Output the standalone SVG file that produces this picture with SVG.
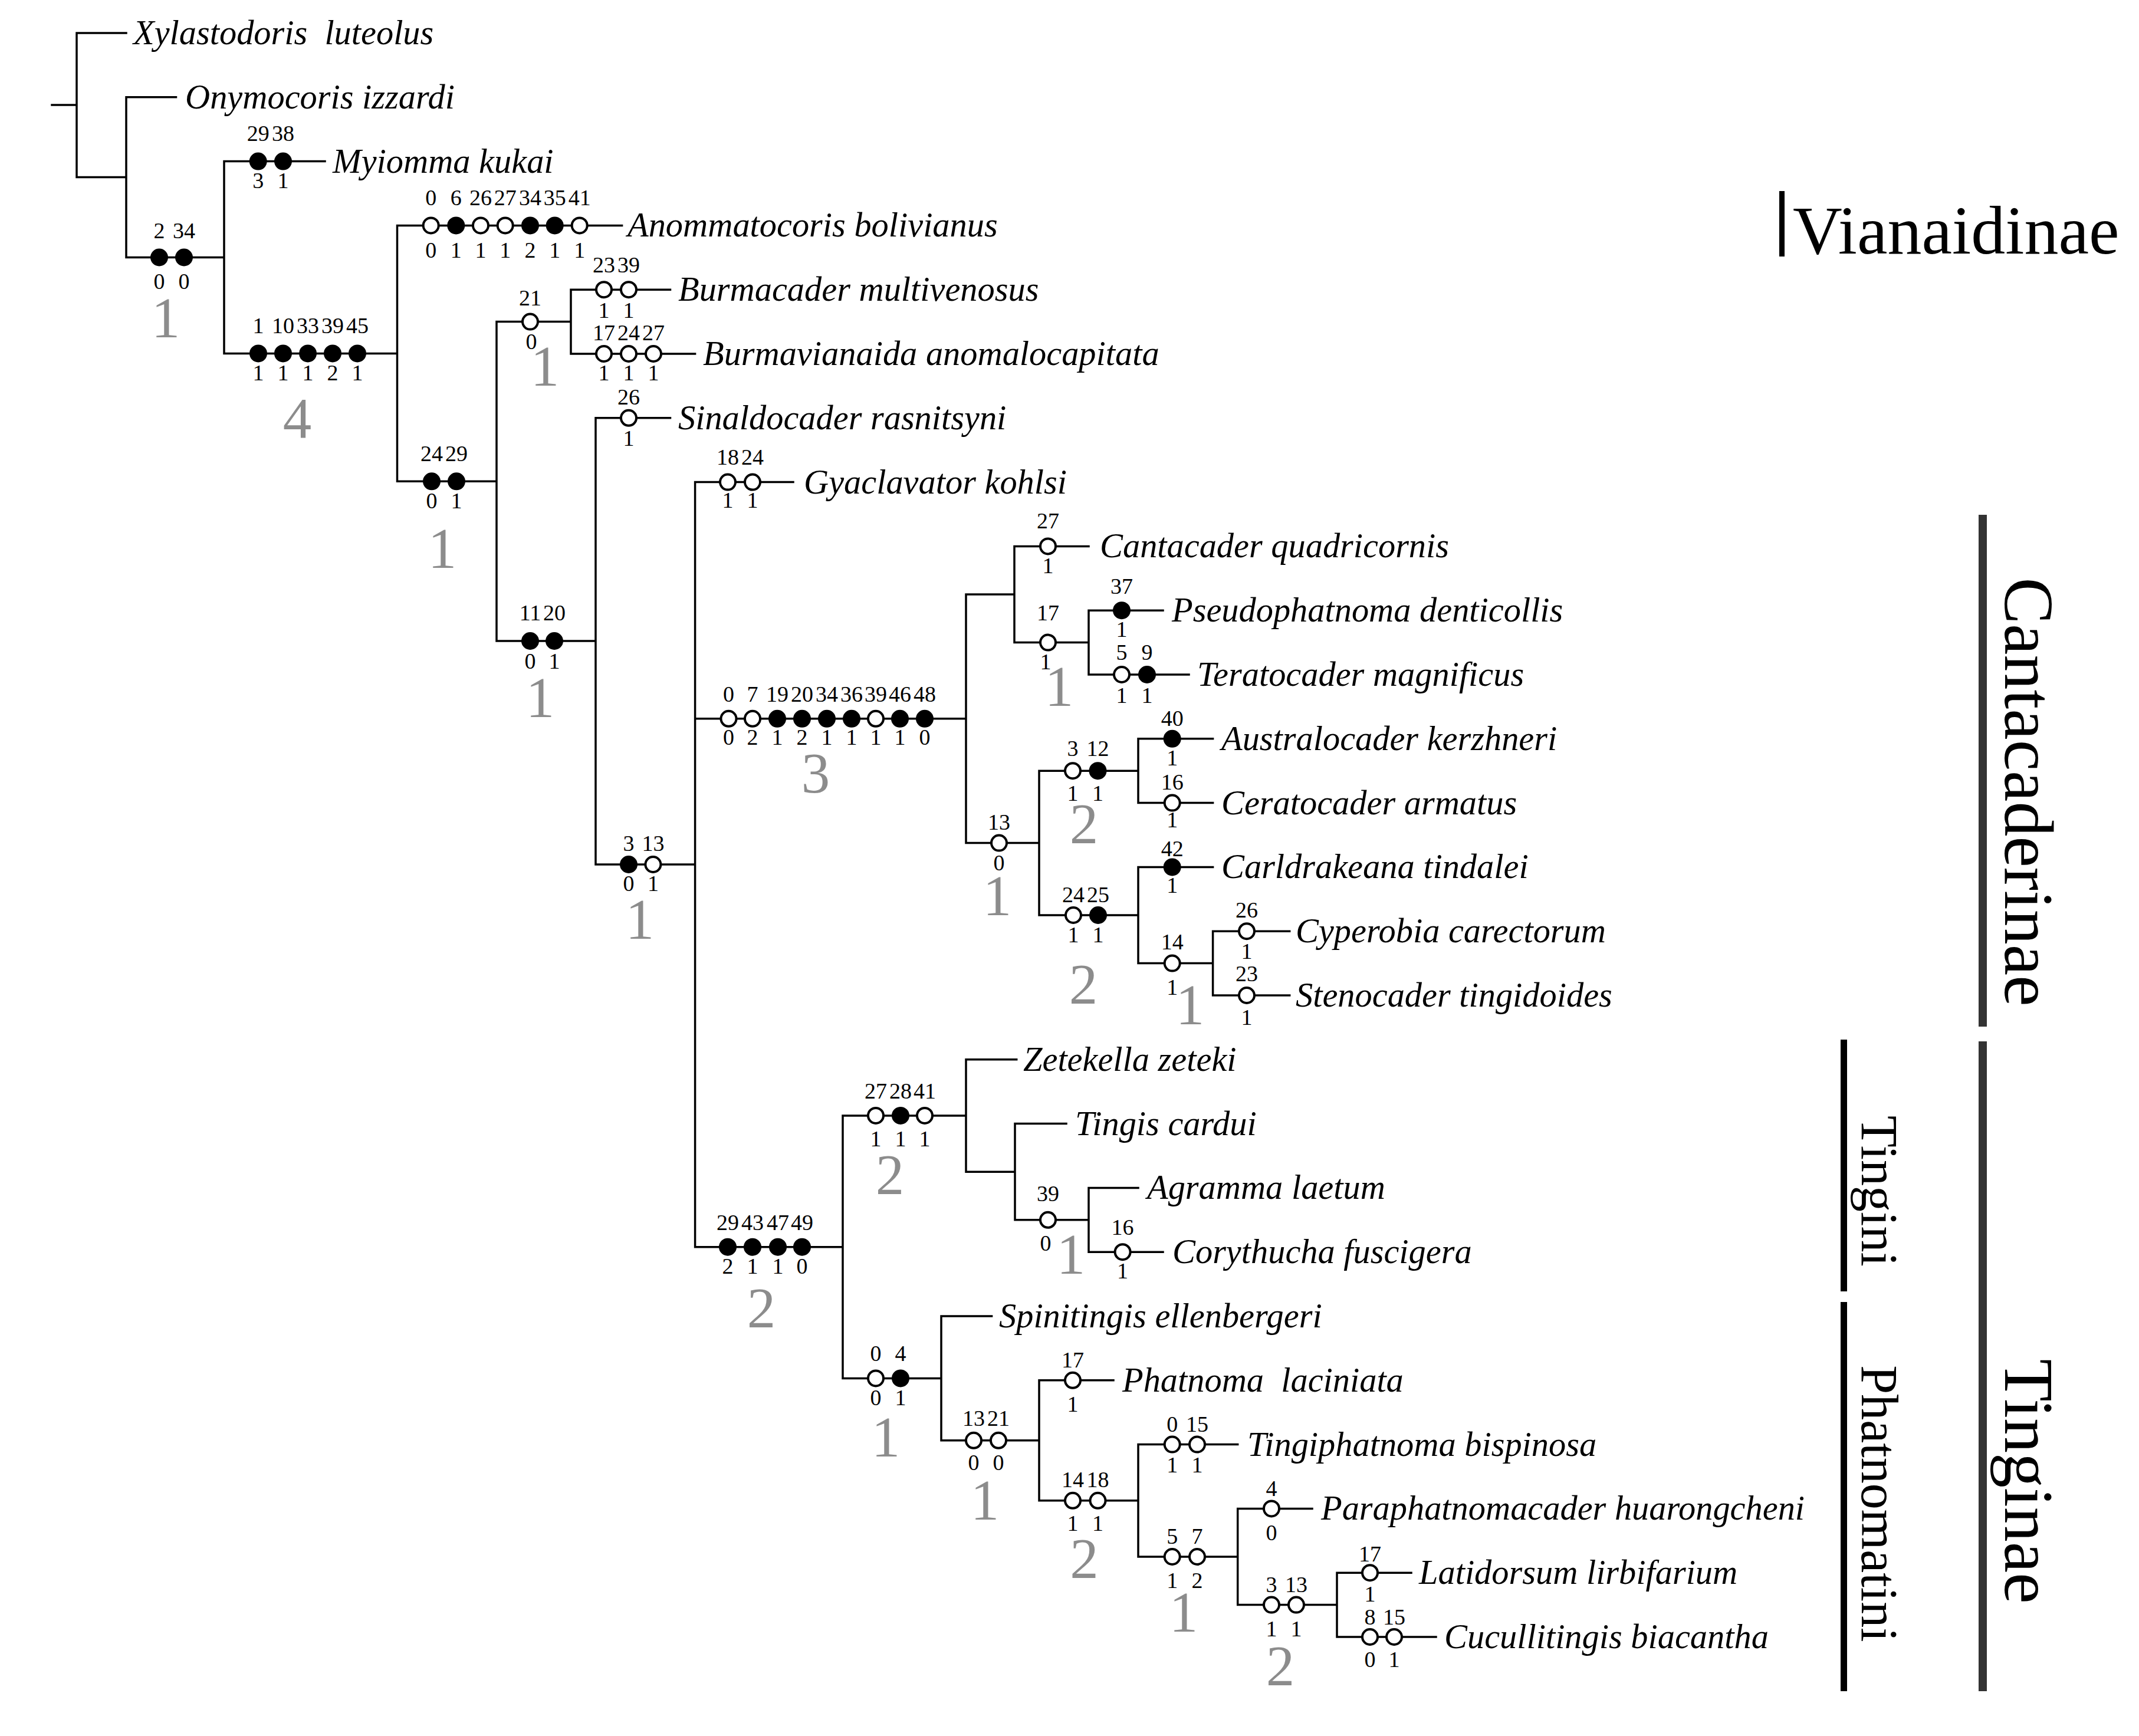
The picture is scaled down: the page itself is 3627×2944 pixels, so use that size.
<svg xmlns="http://www.w3.org/2000/svg" width="3627" height="2944" viewBox="0 0 3627 2944">
<style>
.ln{fill:none;stroke:#000;stroke-width:3.5;stroke-linecap:square}
.f{fill:#000;stroke:#000;stroke-width:4}
.o{fill:#fff;stroke:#000;stroke-width:4}
.n{font-family:"Liberation Serif","Times New Roman",serif;font-size:38px;text-anchor:middle;fill:#000}
.g{font-family:"Liberation Serif","Times New Roman",serif;font-size:97px;text-anchor:middle;fill:#8c8c8c}
.t{font-family:"Liberation Serif","Times New Roman",serif;font-style:italic;font-size:58.4px;fill:#000}
.big{font-family:"Liberation Serif","Times New Roman",serif;fill:#000}
</style>
<rect width="3627" height="2944" fill="#fff"/>
<g id="connectors">
<path class="ln" d="M88,178 H130 M130,56 V300.6 M130,56 H214 M130,300.6 H214 M214,164.8 V436.5 M214,164.8 H298.5 M214,436.5 H380 M380,273.6 V599.4 M380,273.6 H551 M380,599.4 H673.5 M673.5,382.4 V816.3 M673.5,382.4 H1054.6 M673.5,816.3 H842 M842,545.6 V1087 M842,545.6 H968 M842,1087 H1010 M968,491.2 V600 M968,491.2 H1136.5 M968,600 H1178.6 M1010,708.8 V1466 M1010,708.8 H1136.5 M1010,1466 H1178.6 M1178.6,817.6 V2114.7 M1178.6,817.6 H1345 M1178.6,1218.8 H1638 M1178.6,2114.7 H1429 M1638,1008 V1429.6 M1638,1008 H1720 M1638,1429.6 H1762 M1720,926.4 V1089.6 M1720,926.4 H1846 M1720,1089.6 H1846 M1846,1035.2 V1144 M1846,1035.2 H1972 M1846,1144 H2016 M1762,1307.2 V1552 M1762,1307.2 H1930 M1762,1552 H1930 M1930,1252.8 V1361.6 M1930,1252.8 H2056.6 M1930,1361.6 H2056.6 M1930,1470.4 V1633.6 M1930,1470.4 H2056.6 M1930,1633.6 H2056.6 M2056.6,1579.2 V1688 M2056.6,1579.2 H2186.7 M2056.6,1688 H2186.7 M1429,1891.9 V2337.4 M1429,1891.9 H1638 M1429,2337.4 H1596 M1638,1796.8 V1987.2 M1638,1796.8 H1723.7 M1638,1987.2 H1721 M1721,1905.6 V2068.8 M1721,1905.6 H1808 M1721,2068.8 H1846 M1846,2014.4 V2123.2 M1846,2014.4 H1930 M1846,2123.2 H1972 M1596,2232 V2442.8 M1596,2232 H1681.6 M1596,2442.8 H1762 M1762,2340.8 V2544.8 M1762,2340.8 H1888 M1762,2544.8 H1930 M1930,2449.6 V2640 M1930,2449.6 H2098.7 M1930,2640 H2098.7 M2098.7,2558.4 V2721.6 M2098.7,2558.4 H2225 M2098.7,2721.6 H2267 M2267,2667.2 V2776 M2267,2667.2 H2393 M2267,2776 H2435"/>
</g>
<g id="taxa">
<g id="t-xylastodoris"><text class="t" x="226" y="75">Xylastodoris&#160; luteolus</text></g>
<g id="t-onymocoris"><text class="t" x="314" y="184">Onymocoris izzardi</text></g>
<g id="t-myiomma"><text class="t" x="564" y="293">Myiomma kukai</text></g>
<g id="t-anommatocoris"><text class="t" x="1064" y="401">Anommatocoris bolivianus</text></g>
<g id="t-burmacader"><text class="t" x="1150" y="510">Burmacader multivenosus</text></g>
<g id="t-burmavianaida"><text class="t" x="1192" y="619">Burmavianaida anomalocapitata</text></g>
<g id="t-sinaldocader"><text class="t" x="1150" y="728">Sinaldocader rasnitsyni</text></g>
<g id="t-gyaclavator"><text class="t" x="1363" y="837">Gyaclavator kohlsi</text></g>
<g id="t-cantacader"><text class="t" x="1865" y="945">Cantacader quadricornis</text></g>
<g id="t-pseudophatnoma"><text class="t" x="1987" y="1054">Pseudophatnoma denticollis</text></g>
<g id="t-teratocader"><text class="t" x="2030" y="1163">Teratocader magnificus</text></g>
<g id="t-australocader"><text class="t" x="2071" y="1272">Australocader kerzhneri</text></g>
<g id="t-ceratocader"><text class="t" x="2071" y="1381">Ceratocader armatus</text></g>
<g id="t-carldrakeana"><text class="t" x="2071" y="1489">Carldrakeana tindalei</text></g>
<g id="t-cyperobia"><text class="t" x="2197" y="1598">Cyperobia carectorum</text></g>
<g id="t-stenocader"><text class="t" x="2197" y="1707">Stenocader tingidoides</text></g>
<g id="t-zetekella"><text class="t" x="1735" y="1816">Zetekella zeteki</text></g>
<g id="t-tingis"><text class="t" x="1823" y="1925">Tingis cardui</text></g>
<g id="t-agramma"><text class="t" x="1945" y="2033">Agramma laetum</text></g>
<g id="t-corythucha"><text class="t" x="1988" y="2142">Corythucha fuscigera</text></g>
<g id="t-spinitingis"><text class="t" x="1694" y="2251">Spinitingis ellenbergeri</text></g>
<g id="t-phatnoma"><text class="t" x="1903" y="2360">Phatnoma&#160; laciniata</text></g>
<g id="t-tingiphatnoma"><text class="t" x="2115" y="2469">Tingiphatnoma bispinosa</text></g>
<g id="t-paraphatnomacader"><text class="t" x="2240" y="2577">Paraphatnomacader huarongcheni</text></g>
<g id="t-latidorsum"><text class="t" x="2406" y="2686">Latidorsum lirbifarium</text></g>
<g id="t-cucullitingis"><text class="t" x="2449" y="2795">Cucullitingis biacantha</text></g>
</g>
<g id="characters">
<g id="c-2-34">
<circle class="f" cx="270" cy="436.5" r="13"/><circle class="f" cx="312" cy="436.5" r="13"/>
<text class="n" x="270" y="403.5">2</text><text class="n" x="312" y="403.5">34</text>
<text class="n" x="270" y="489.5">0</text><text class="n" x="312" y="489.5">0</text>
<text class="g" x="281" y="572">1</text>
</g>
<g id="c-myiomma">
<circle class="f" cx="437.7" cy="273.6" r="13"/><circle class="f" cx="480" cy="273.6" r="13"/>
<text class="n" x="437.7" y="239">29</text><text class="n" x="480" y="239">38</text>
<text class="n" x="437.7" y="319">3</text><text class="n" x="480" y="319">1</text>
</g>
<g id="c-1-45">
<circle class="f" cx="438" cy="599.4" r="13"/><circle class="f" cx="480" cy="599.4" r="13"/><circle class="f" cx="522" cy="599.4" r="13"/><circle class="f" cx="564" cy="599.4" r="13"/><circle class="f" cx="606" cy="599.4" r="13"/>
<text class="n" x="438" y="564.7">1</text><text class="n" x="480" y="564.7">10</text><text class="n" x="522" y="564.7">33</text><text class="n" x="564" y="564.7">39</text><text class="n" x="606" y="564.7">45</text>
<text class="n" x="438" y="645">1</text><text class="n" x="480" y="645">1</text><text class="n" x="522" y="645">1</text><text class="n" x="564" y="645">2</text><text class="n" x="606" y="645">1</text>
<text class="g" x="504" y="742">4</text>
</g>
<g id="c-anommatocoris">
<circle class="o" cx="730.7" cy="382.4" r="13"/><circle class="f" cx="773.3" cy="382.4" r="13"/><circle class="o" cx="815" cy="382.4" r="13"/><circle class="o" cx="856.7" cy="382.4" r="13"/><circle class="f" cx="899" cy="382.4" r="13"/><circle class="f" cx="940.7" cy="382.4" r="13"/><circle class="o" cx="982.7" cy="382.4" r="13"/>
<text class="n" x="730.7" y="348.3">0</text><text class="n" x="773.3" y="348.3">6</text><text class="n" x="815" y="348.3">26</text><text class="n" x="856.7" y="348.3">27</text><text class="n" x="899" y="348.3">34</text><text class="n" x="940.7" y="348.3">35</text><text class="n" x="982.7" y="348.3">41</text>
<text class="n" x="730.7" y="436.7">0</text><text class="n" x="773.3" y="436.7">1</text><text class="n" x="815" y="436.7">1</text><text class="n" x="856.7" y="436.7">1</text><text class="n" x="899" y="436.7">2</text><text class="n" x="940.7" y="436.7">1</text><text class="n" x="982.7" y="436.7">1</text>
</g>
<g id="c-24-29">
<circle class="f" cx="732" cy="816.3" r="13"/><circle class="f" cx="774" cy="816.3" r="13"/>
<text class="n" x="732" y="782">24</text><text class="n" x="774" y="782">29</text>
<text class="n" x="732" y="862">0</text><text class="n" x="774" y="862">1</text>
<text class="g" x="750" y="963">1</text>
</g>
<g id="c-21">
<circle class="o" cx="899" cy="545.6" r="13"/>
<text class="n" x="899" y="518">21</text><text class="n" x="901" y="592">0</text>
<text class="g" x="924" y="654">1</text>
</g>
<g id="c-burmacader">
<circle class="o" cx="1024" cy="491.2" r="13"/><circle class="o" cx="1066" cy="491.2" r="13"/>
<text class="n" x="1024" y="462">23</text><text class="n" x="1066" y="462">39</text>
<text class="n" x="1024" y="539">1</text><text class="n" x="1066" y="539">1</text>
</g>
<g id="c-burmavianaida">
<circle class="o" cx="1024" cy="600" r="13"/><circle class="o" cx="1066" cy="600" r="13"/><circle class="o" cx="1108" cy="600" r="13"/>
<text class="n" x="1024" y="577">17</text><text class="n" x="1066" y="577">24</text><text class="n" x="1108" y="577">27</text>
<text class="n" x="1024" y="645">1</text><text class="n" x="1066" y="645">1</text><text class="n" x="1108" y="645">1</text>
</g>
<g id="c-sinaldocader">
<circle class="o" cx="1066" cy="708.8" r="13"/>
<text class="n" x="1066" y="686">26</text><text class="n" x="1066" y="756">1</text>
</g>
<g id="c-11-20">
<circle class="f" cx="899" cy="1087" r="13"/><circle class="f" cx="940" cy="1087" r="13"/>
<text class="n" x="899" y="1052">11</text><text class="n" x="940" y="1052">20</text>
<text class="n" x="899" y="1134">0</text><text class="n" x="940" y="1134">1</text>
<text class="g" x="916" y="1216">1</text>
</g>
<g id="c-3-13">
<circle class="f" cx="1066" cy="1466" r="13"/><circle class="o" cx="1107.4" cy="1466" r="13"/>
<text class="n" x="1066" y="1443">3</text><text class="n" x="1107.4" y="1443">13</text>
<text class="n" x="1066" y="1511">0</text><text class="n" x="1107.4" y="1511">1</text>
<text class="g" x="1085" y="1592">1</text>
</g>
<g id="c-gyaclavator">
<circle class="o" cx="1234" cy="817.6" r="13"/><circle class="o" cx="1276" cy="817.6" r="13"/>
<text class="n" x="1234" y="788">18</text><text class="n" x="1276" y="788">24</text>
<text class="n" x="1234" y="861">1</text><text class="n" x="1276" y="861">1</text>
</g>
<g id="c-cantacaderinae">
<circle class="o" cx="1235.5" cy="1218.8" r="13"/><circle class="o" cx="1276" cy="1218.8" r="13"/><circle class="f" cx="1318" cy="1218.8" r="13"/><circle class="f" cx="1360" cy="1218.8" r="13"/><circle class="f" cx="1402" cy="1218.8" r="13"/><circle class="f" cx="1444" cy="1218.8" r="13"/><circle class="o" cx="1485" cy="1218.8" r="13"/><circle class="f" cx="1526" cy="1218.8" r="13"/><circle class="f" cx="1568" cy="1218.8" r="13"/>
<text class="n" x="1235.5" y="1190">0</text><text class="n" x="1276" y="1190">7</text><text class="n" x="1318" y="1190">19</text><text class="n" x="1360" y="1190">20</text><text class="n" x="1402" y="1190">34</text><text class="n" x="1444" y="1190">36</text><text class="n" x="1485" y="1190">39</text><text class="n" x="1526" y="1190">46</text><text class="n" x="1568" y="1190">48</text>
<text class="n" x="1235.5" y="1263">0</text><text class="n" x="1276" y="1263">2</text><text class="n" x="1318" y="1263">1</text><text class="n" x="1360" y="1263">2</text><text class="n" x="1402" y="1263">1</text><text class="n" x="1444" y="1263">1</text><text class="n" x="1485" y="1263">1</text><text class="n" x="1526" y="1263">1</text><text class="n" x="1568" y="1263">0</text>
<text class="g" x="1383" y="1344">3</text>
</g>
<g id="c-cantacader">
<circle class="o" cx="1777" cy="926.4" r="13"/>
<text class="n" x="1777" y="896">27</text><text class="n" x="1777" y="972">1</text>
</g>
<g id="c-17">
<circle class="o" cx="1777" cy="1089.6" r="13"/>
<text class="n" x="1777" y="1052">17</text><text class="n" x="1773" y="1135">1</text>
<text class="g" x="1796" y="1197">1</text>
</g>
<g id="c-pseudophatnoma">
<circle class="f" cx="1902" cy="1035.2" r="13"/>
<text class="n" x="1902" y="1007">37</text><text class="n" x="1902" y="1080">1</text>
</g>
<g id="c-teratocader">
<circle class="o" cx="1902" cy="1144" r="13"/><circle class="f" cx="1945" cy="1144" r="13"/>
<text class="n" x="1902" y="1119">5</text><text class="n" x="1945" y="1119">9</text>
<text class="n" x="1902" y="1192">1</text><text class="n" x="1945" y="1192">1</text>
</g>
<g id="c-13">
<circle class="o" cx="1694" cy="1429.6" r="13"/>
<text class="n" x="1694" y="1407">13</text><text class="n" x="1694" y="1475.5">0</text>
<text class="g" x="1691" y="1552">1</text>
</g>
<g id="c-3-12">
<circle class="o" cx="1819" cy="1307.2" r="13"/><circle class="f" cx="1861.5" cy="1307.2" r="13"/>
<text class="n" x="1819" y="1282">3</text><text class="n" x="1861.5" y="1282">12</text>
<text class="n" x="1819" y="1358">1</text><text class="n" x="1861.5" y="1358">1</text>
<text class="g" x="1838" y="1430">2</text>
</g>
<g id="c-australocader">
<circle class="f" cx="1987.7" cy="1252.8" r="13"/>
<text class="n" x="1987.7" y="1230.5">40</text><text class="n" x="1987.7" y="1297.5">1</text>
</g>
<g id="c-ceratocader">
<circle class="o" cx="1987.7" cy="1361.6" r="13"/>
<text class="n" x="1987.7" y="1339">16</text><text class="n" x="1987.7" y="1403">1</text>
</g>
<g id="c-24-25">
<circle class="o" cx="1820" cy="1552" r="13"/><circle class="f" cx="1862" cy="1552" r="13"/>
<text class="n" x="1820" y="1530">24</text><text class="n" x="1862" y="1530">25</text>
<text class="n" x="1820" y="1598">1</text><text class="n" x="1862" y="1598">1</text>
<text class="g" x="1837" y="1702">2</text>
</g>
<g id="c-carldrakeana">
<circle class="f" cx="1987.7" cy="1470.4" r="13"/>
<text class="n" x="1987.7" y="1452">42</text><text class="n" x="1987.7" y="1514">1</text>
</g>
<g id="c-14">
<circle class="o" cx="1987.7" cy="1633.6" r="13"/>
<text class="n" x="1987.7" y="1610">14</text><text class="n" x="1987.7" y="1686.5">1</text>
<text class="g" x="2018" y="1737">1</text>
</g>
<g id="c-cyperobia">
<circle class="o" cx="2114" cy="1579.2" r="13"/>
<text class="n" x="2114" y="1556">26</text><text class="n" x="2114" y="1626">1</text>
</g>
<g id="c-stenocader">
<circle class="o" cx="2114" cy="1688" r="13"/>
<text class="n" x="2114" y="1664">23</text><text class="n" x="2114" y="1737.5">1</text>
</g>
<g id="c-tinginae">
<circle class="f" cx="1234" cy="2114.7" r="13"/><circle class="f" cx="1276" cy="2114.7" r="13"/><circle class="f" cx="1319" cy="2114.7" r="13"/><circle class="f" cx="1360" cy="2114.7" r="13"/>
<text class="n" x="1234" y="2086">29</text><text class="n" x="1276" y="2086">43</text><text class="n" x="1319" y="2086">47</text><text class="n" x="1360" y="2086">49</text>
<text class="n" x="1234" y="2160">2</text><text class="n" x="1276" y="2160">1</text><text class="n" x="1319" y="2160">1</text><text class="n" x="1360" y="2160">0</text>
<text class="g" x="1291" y="2251">2</text>
</g>
<g id="c-27-28-41">
<circle class="o" cx="1485" cy="1891.9" r="13"/><circle class="f" cx="1527" cy="1891.9" r="13"/><circle class="o" cx="1568" cy="1891.9" r="13"/>
<text class="n" x="1485" y="1862.6">27</text><text class="n" x="1527" y="1862.6">28</text><text class="n" x="1568" y="1862.6">41</text>
<text class="n" x="1485" y="1944">1</text><text class="n" x="1527" y="1944">1</text><text class="n" x="1568" y="1944">1</text>
<text class="g" x="1509" y="2025">2</text>
</g>
<g id="c-39">
<circle class="o" cx="1777" cy="2068.8" r="13"/>
<text class="n" x="1777" y="2037">39</text><text class="n" x="1773" y="2120.5">0</text>
<text class="g" x="1816" y="2160">1</text>
</g>
<g id="c-corythucha">
<circle class="o" cx="1903.6" cy="2123.2" r="13"/>
<text class="n" x="1903.6" y="2094">16</text><text class="n" x="1903.6" y="2168">1</text>
</g>
<g id="c-0-4">
<circle class="o" cx="1485" cy="2337.4" r="13"/><circle class="f" cx="1527" cy="2337.4" r="13"/>
<text class="n" x="1485" y="2308">0</text><text class="n" x="1527" y="2308">4</text>
<text class="n" x="1485" y="2383">0</text><text class="n" x="1527" y="2383">1</text>
<text class="g" x="1502" y="2469.5">1</text>
</g>
<g id="c-13-21">
<circle class="o" cx="1651" cy="2442.8" r="13"/><circle class="o" cx="1693" cy="2442.8" r="13"/>
<text class="n" x="1651" y="2418">13</text><text class="n" x="1693" y="2418">21</text>
<text class="n" x="1651" y="2493">0</text><text class="n" x="1693" y="2493">0</text>
<text class="g" x="1670" y="2576.6">1</text>
</g>
<g id="c-phatnoma">
<circle class="o" cx="1819" cy="2340.8" r="13"/>
<text class="n" x="1819" y="2319">17</text><text class="n" x="1819" y="2394">1</text>
</g>
<g id="c-14-18">
<circle class="o" cx="1819" cy="2544.8" r="13"/><circle class="o" cx="1861.5" cy="2544.8" r="13"/>
<text class="n" x="1819" y="2522">14</text><text class="n" x="1861.5" y="2522">18</text>
<text class="n" x="1819" y="2596">1</text><text class="n" x="1861.5" y="2596">1</text>
<text class="g" x="1838.5" y="2676">2</text>
</g>
<g id="c-tingiphatnoma">
<circle class="o" cx="1987.7" cy="2449.6" r="13"/><circle class="o" cx="2030" cy="2449.6" r="13"/>
<text class="n" x="1987.7" y="2428">0</text><text class="n" x="2030" y="2428">15</text>
<text class="n" x="1987.7" y="2497">1</text><text class="n" x="2030" y="2497">1</text>
</g>
<g id="c-5-7">
<circle class="o" cx="1987.7" cy="2640" r="13"/><circle class="o" cx="2030" cy="2640" r="13"/>
<text class="n" x="1987.7" y="2618">5</text><text class="n" x="2030" y="2618">7</text>
<text class="n" x="1987.7" y="2693">1</text><text class="n" x="2030" y="2693">2</text>
<text class="g" x="2007" y="2767">1</text>
</g>
<g id="c-paraphatnomacader">
<circle class="o" cx="2156" cy="2558.4" r="13"/>
<text class="n" x="2156" y="2537">4</text><text class="n" x="2156" y="2612">0</text>
</g>
<g id="c-3-13b">
<circle class="o" cx="2156" cy="2721.6" r="13"/><circle class="o" cx="2198" cy="2721.6" r="13"/>
<text class="n" x="2156" y="2700">3</text><text class="n" x="2198" y="2700">13</text>
<text class="n" x="2156" y="2775">1</text><text class="n" x="2198" y="2775">1</text>
<text class="g" x="2171" y="2858">2</text>
</g>
<g id="c-latidorsum">
<circle class="o" cx="2323" cy="2667.2" r="13"/>
<text class="n" x="2323" y="2648">17</text><text class="n" x="2323" y="2715.5">1</text>
</g>
<g id="c-cucullitingis">
<circle class="o" cx="2323" cy="2776" r="13"/><circle class="o" cx="2364" cy="2776" r="13"/>
<text class="n" x="2323" y="2755">8</text><text class="n" x="2364" y="2755">15</text>
<text class="n" x="2323" y="2826.6">0</text><text class="n" x="2364" y="2826.6">1</text>
</g>
</g>
<g id="groups">
<g id="g-vianaidinae">
<rect x="3017" y="324" width="9" height="111" fill="#000"/>
<text class="big" x="3040" y="430" font-size="116">Vianaidinae</text>
</g>
<g id="g-cantacaderinae">
<rect x="3355" y="873" width="14" height="868" fill="#333"/>
<text class="big" font-size="118" text-anchor="middle" transform="translate(3400,1343) rotate(90)">Cantacaderinae</text>
</g>
<g id="g-tinginae">
<rect x="3355" y="1766" width="14" height="1102" fill="#333"/>
<text class="big" font-size="118" text-anchor="middle" transform="translate(3400,2512) rotate(90)">Tinginae</text>
</g>
<g id="g-tingini">
<rect x="3121" y="1763" width="11" height="427" fill="#000"/>
<text class="big" font-size="88" text-anchor="middle" transform="translate(3157,2020) rotate(90)">Tingini</text>
</g>
<g id="g-phatnomatini">
<rect x="3121" y="2208" width="11" height="660" fill="#000"/>
<text class="big" font-size="88" text-anchor="middle" transform="translate(3157,2550) rotate(90)">Phatnomatini</text>
</g>
</g>
</svg>
